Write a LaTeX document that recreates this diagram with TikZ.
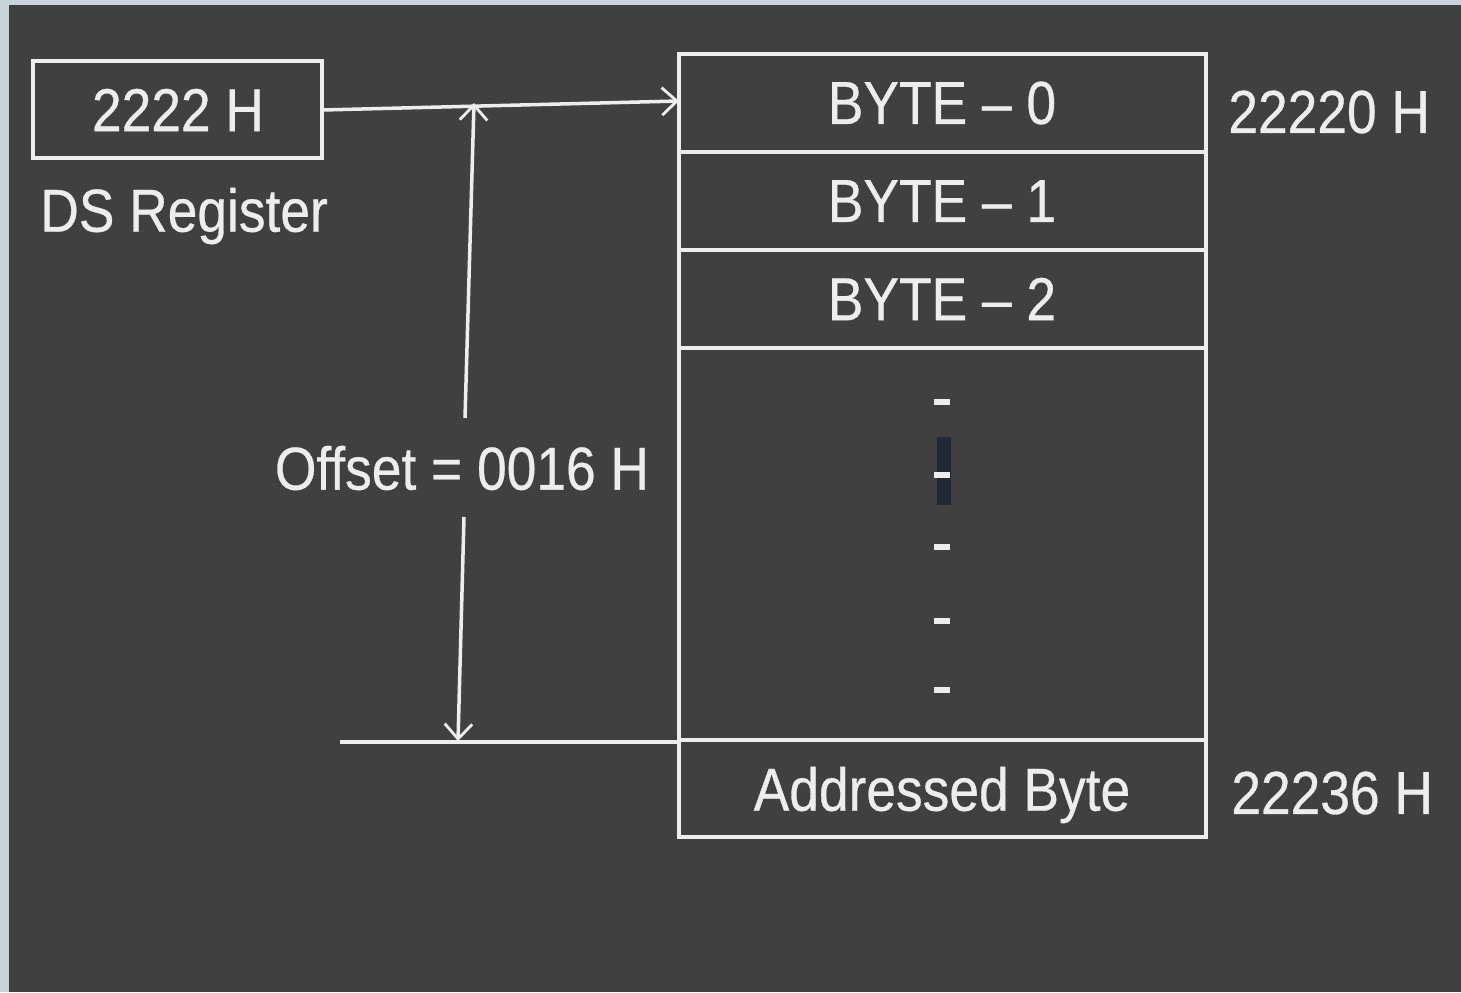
\documentclass[tikz,border=0pt]{standalone}
\usepackage{fontspec}
\setmainfont[FakeStretch=0.88,FakeBold=0.5]{Liberation Sans}
\usetikzlibrary{arrows.meta}
\definecolor{bgdark}{HTML}{404040}
\definecolor{frame}{HTML}{C8D3DA}
\definecolor{ink}{HTML}{EDEDED}
\definecolor{cursor}{HTML}{1F2A35}
\begin{document}
\begin{tikzpicture}[x=0.02cm,y=-0.02cm,
  lbl/.style={text=ink,font=\fontsize{34.5}{40}\selectfont,inner sep=0pt},
  wline/.style={draw=ink,line width=2pt},
  cell/.style={draw=ink,line width=2pt},
  tip/.style={-{Straight Barb[length=3mm,width=5.5mm,line width=1.6pt]}}]
\useasboundingbox (0,0) rectangle (1461,992);
\fill[frame] (0,0) rectangle (1461,992);
\fill[bgdark] (9,5) rectangle (1461,992);
% DS register
\draw[cell] (33,61) rectangle (322,158);
\node[lbl] (ds) at (178,110) {2222 H};
\coordinate (dsr) at (322,110);
\node[lbl,anchor=west] (dsl) at (40,216) {DS Register};
% memory column
\draw[cell] (679,54) rectangle (1206,837);
\draw[cell] (679,152) -- (1206,152);
\draw[cell] (679,250) -- (1206,250);
\draw[cell] (679,348) -- (1206,348);
\draw[cell] (679,740) -- (1206,740);
\coordinate (b0w) at (679,101);
\node[lbl] (b0) at (942,103) {BYTE – 0};
\node[lbl] (b1) at (942,201) {BYTE – 1};
\node[lbl] (b2) at (942,299) {BYTE – 2};
\node[lbl] (ab) at (942,795) {Addressed Byte};
% dashes
\fill[cursor] (937,437) rectangle (951,505);
\foreach \yy in {402,475,547,621,690}{
  \fill[ink] (934,\yy-3) rectangle (950,\yy+3);
}
% addresses
\node[lbl,anchor=west] (a0) at (1228,112) {22220 H};
\node[lbl,anchor=west] (a1) at (1231,793) {22236 H};
% DS arrow
\draw[wline,tip] (dsr) -- (b0w);
% offset
\node[lbl] (off) at (462,468) {Offset = 0016 H};
\coordinate (ot) at (474,103);
\coordinate (ob) at (458,741);
\coordinate (os1) at (465,418);
\coordinate (os2) at (464,517);
\draw[wline,tip] (os1) -- (ot);
\draw[wline,tip] (os2) -- (ob);
\coordinate (hl) at (340,742);
\coordinate (hr) at (679,742);
\draw[wline] (hl) -- (hr);
\end{tikzpicture}
\end{document}
